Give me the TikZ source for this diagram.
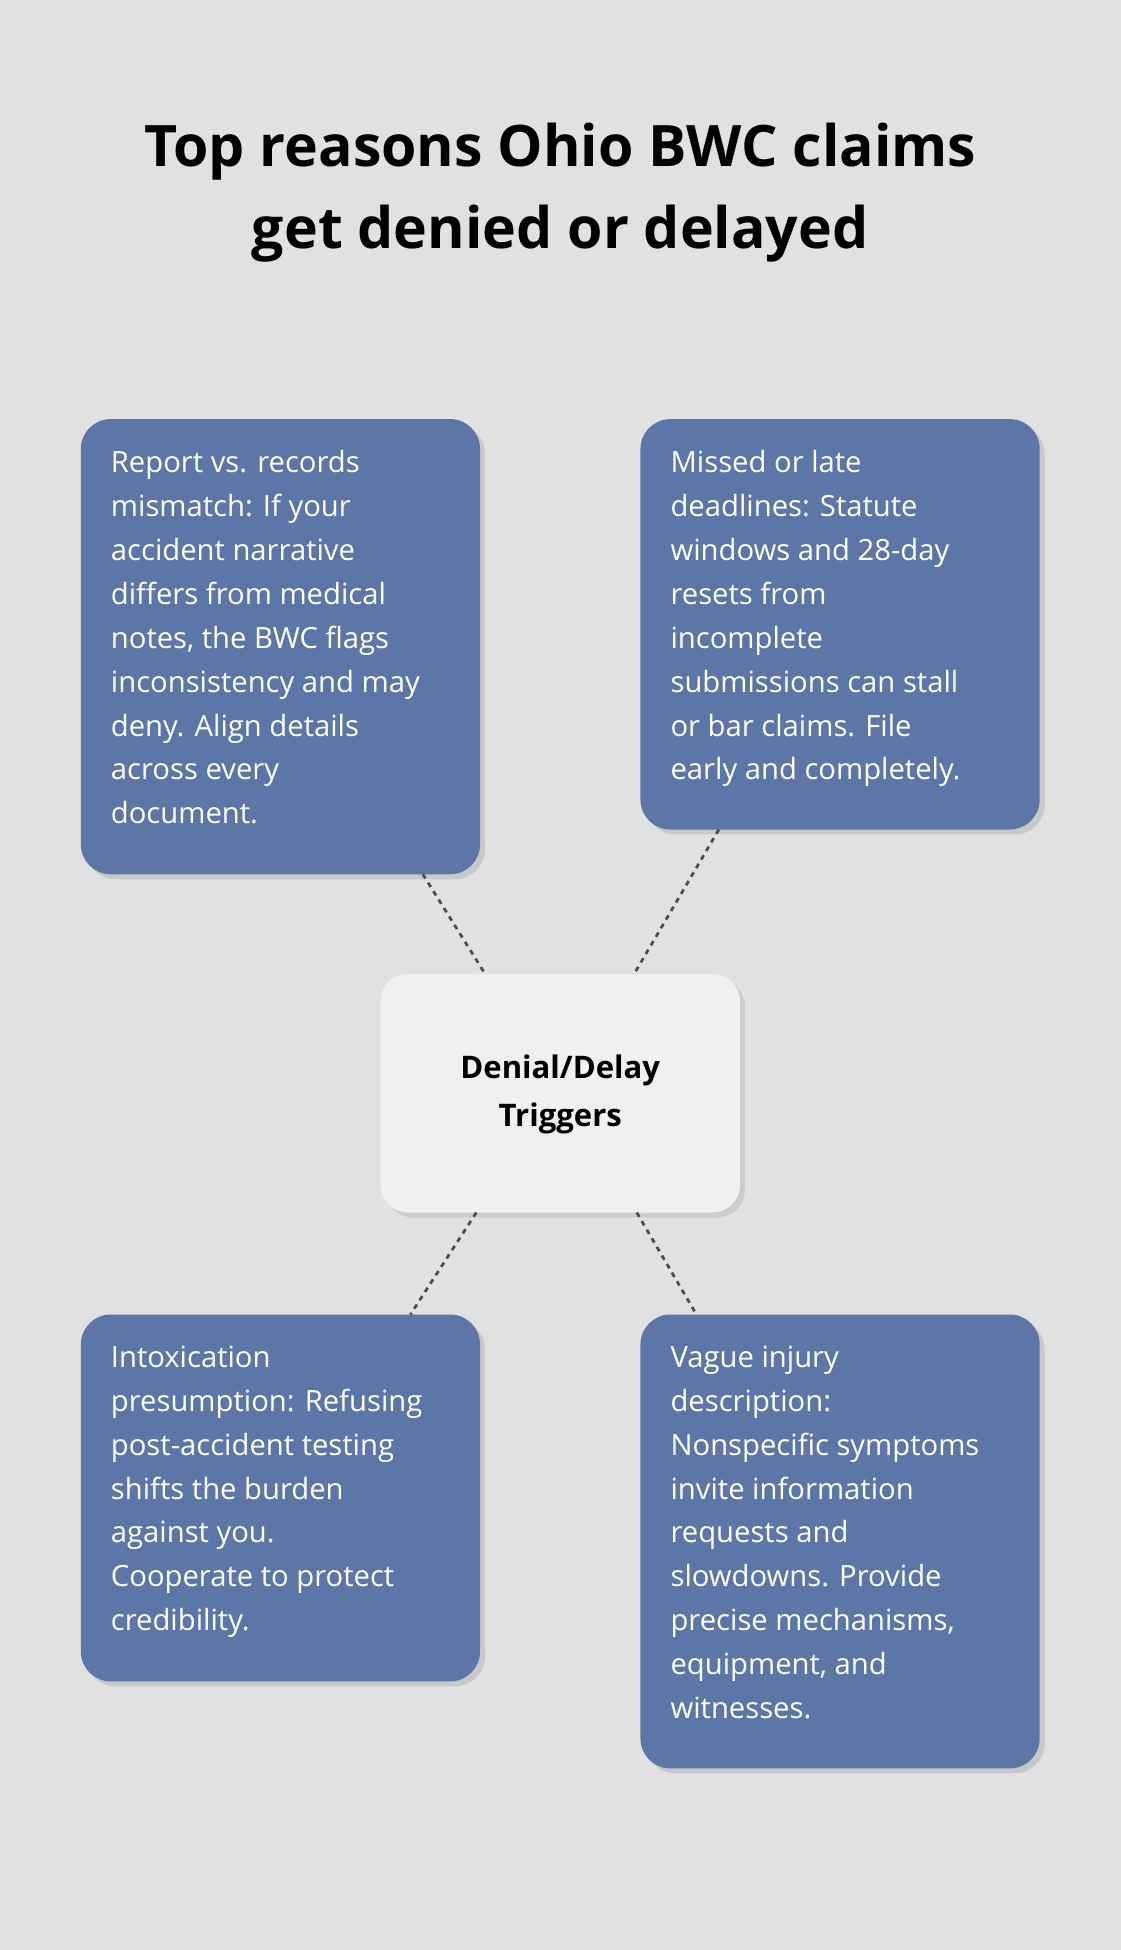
\documentclass[tikz,border=0pt]{standalone}
\usepackage{fontspec}
\setmainfont{Open Sans}
\usetikzlibrary{shadows}
\definecolor{bg}{HTML}{E0E1E0}
\definecolor{boxc}{HTML}{5C76A8}
\definecolor{cen}{HTML}{EEF0F2}
\begin{document}
\begin{tikzpicture}[x=1pt,y=1pt,
  box/.style={fill=boxc,rounded corners=24pt,draw=none,drop shadow={shadow xshift=4pt,shadow yshift=-4pt,opacity=0.25}},
  txt/.style={anchor=north west,inner sep=0pt,align=left,text=white,font=\fontsize{23.5}{35.3}\selectfont},
  con/.style={draw=black!70,line width=2.2pt,dash pattern=on 4pt off 4pt}]
\useasboundingbox[fill=bg] (0,0) rectangle (901,-1568);
\node[align=center,font=\bfseries\fontsize{46}{66}\selectfont] (title) at (450.5,-155) {Top reasons Ohio BWC claims\\get denied or delayed};
\path[box] (65,-337) rectangle (386,-703);
\path[box] (515,-337) rectangle (836,-667);
\path[box] (65,-1057) rectangle (386,-1352);
\path[box] (515,-1057) rectangle (836,-1422);
\path[fill=cen,rounded corners=22pt,drop shadow={shadow xshift=4pt,shadow yshift=-4pt,opacity=0.2}] (306,-783) rectangle (595,-975);
\node[align=center,font=\bfseries\fontsize{25}{39}\selectfont] (c) at (450.5,-880) {Denial/Delay\\Triggers};
\node[txt] (t1) at (89,-362) {Report vs. records\\mismatch: If your\\accident narrative\\differs from medical\\notes, the BWC flags\\inconsistency and may\\deny. Align details\\across every\\document.};
\node[txt] (t2) at (539,-362) {Missed or late\\deadlines: Statute\\windows and 28-day\\resets from\\incomplete\\submissions can stall\\or bar claims. File\\early and completely.};
\node[txt] (t3) at (89,-1082) {Intoxication\\presumption: Refusing\\post-accident testing\\shifts the burden\\against you.\\Cooperate to protect\\credibility.};
\node[txt] (t4) at (539,-1082) {Vague injury\\description:\\Nonspecific symptoms\\invite information\\requests and\\slowdowns. Provide\\precise mechanisms,\\equipment, and\\witnesses.};
\coordinate (a1) at (340,-703); \coordinate (a2) at (390,-783);
\coordinate (b1) at (578,-667); \coordinate (b2) at (510,-783);
\coordinate (c1) at (383,-975); \coordinate (c2) at (330,-1057);
\coordinate (d1) at (512,-975); \coordinate (d2) at (560,-1057);
\draw[con] (a1) -- (a2);
\draw[con] (b1) -- (b2);
\draw[con] (c1) -- (c2);
\draw[con] (d1) -- (d2);
\end{tikzpicture}
\end{document}
